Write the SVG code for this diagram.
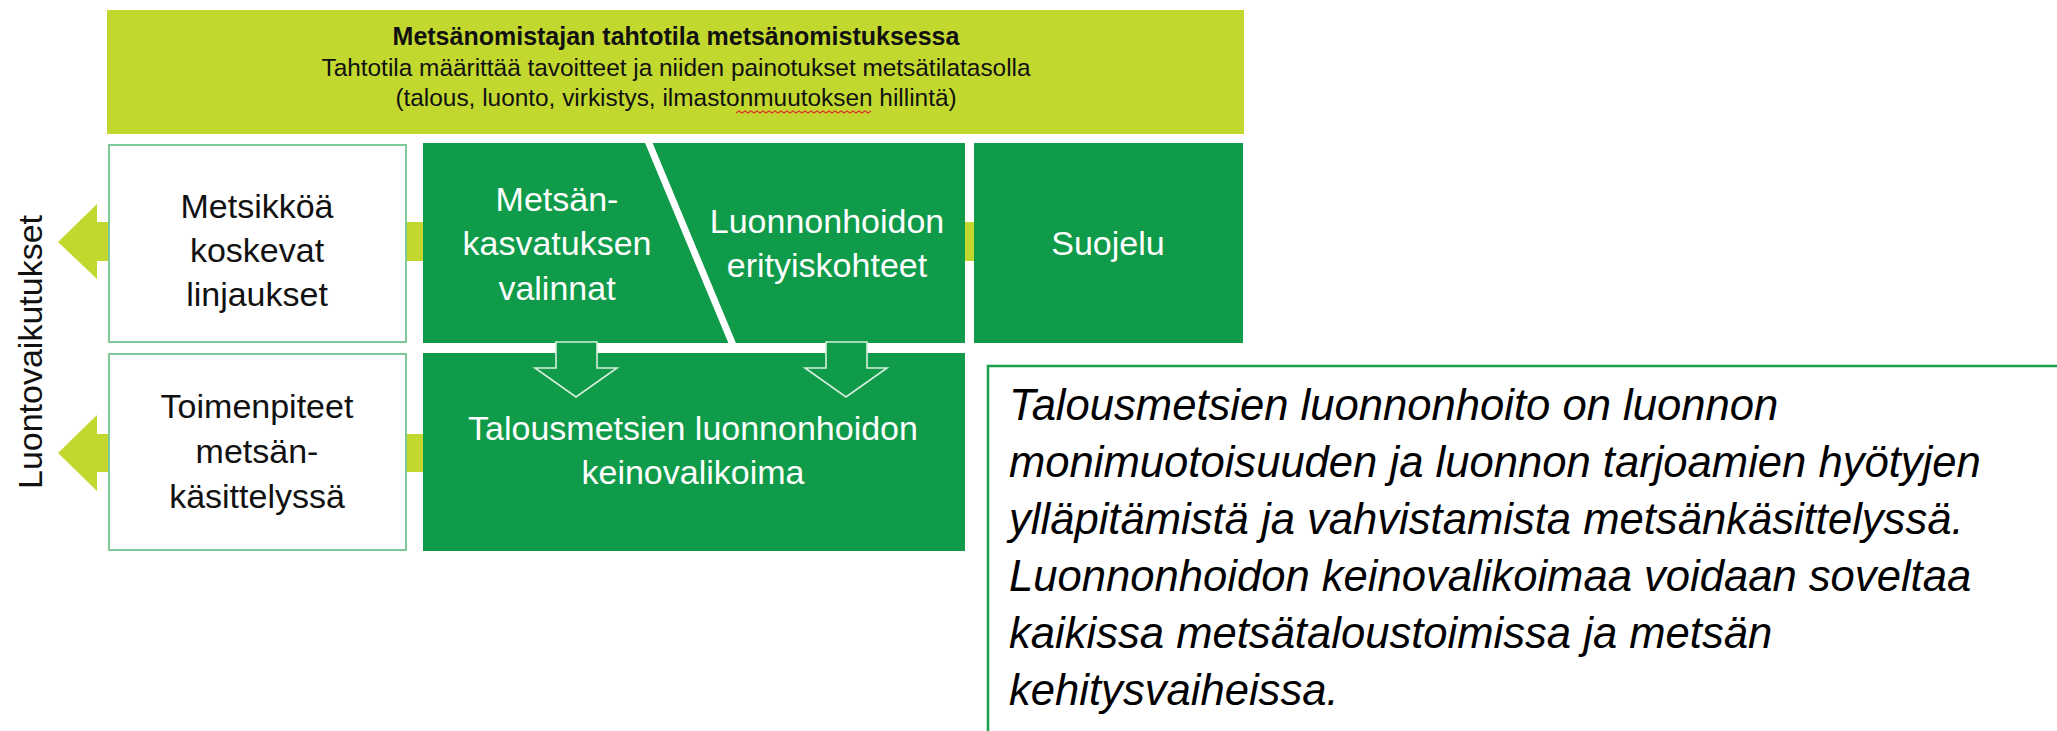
<svg xmlns="http://www.w3.org/2000/svg" width="2057" height="731" viewBox="0 0 2057 731">
<style>
.lime{fill:#c2d82f}
.dk{fill:#0f9b4a}
.wbox{fill:#ffffff;stroke:#7fca98;stroke-width:2}
.t{font-family:"Liberation Sans",Arial,sans-serif;text-anchor:middle}
.bk{fill:#111111;font-size:34px}
.wh{fill:#ffffff;font-size:34px}
.it{font-family:"Liberation Sans",Arial,sans-serif;font-style:italic;font-size:43.6px;fill:#000000}
.darr{fill:#0f9b4a;stroke:#d6efdc;stroke-width:1.6}
</style>
<rect width="2057" height="731" fill="#ffffff"/>

<g id="connectors">
  <polygon class="lime" points="58,242 97,204 97,222 424,222 424,261 97,261 97,279"/>
  <polygon class="lime" points="58,453 97,415 97,434 424,434 424,472 97,472 97,491"/>
  <rect class="lime" x="962" y="222" width="14" height="39"/>
</g>

<g id="banner">
  <rect class="lime" x="107" y="10" width="1137" height="124"/>
  <text class="t" x="676" y="45" font-size="25" font-weight="bold" fill="#111">Metsänomistajan tahtotila metsänomistuksessa</text>
  <text class="t" x="676" y="76" font-size="24.4" fill="#111">Tahtotila määrittää tavoitteet ja niiden painotukset metsätilatasolla</text>
  <text class="t" x="676" y="106" font-size="24.4" fill="#111">(talous, luonto, virkistys, ilmastonmuutoksen hillintä)</text>
  <path d="M736,113 l3,-2 l3,2 l3,-2 l3,2 l3,-2 l3,2 l3,-2 l3,2 l3,-2 l3,2 l3,-2 l3,2 l3,-2 l3,2 l3,-2 l3,2 l3,-2 l3,2 l3,-2 l3,2 l3,-2 l3,2 l3,-2 l3,2 l3,-2 l3,2 l3,-2 l3,2 l3,-2 l3,2 l3,-2 l3,2 l3,-2 l3,2 l3,-2 l3,2 l3,-2 l3,2 l3,-2 l3,2 l3,-2 l3,2 l3,-2 l3,2 l3,-2" fill="none" stroke="#e03030" stroke-width="1.2"/>
</g>

<g id="side-label">
  <text class="t" x="0" y="0" font-size="34" fill="#111" transform="translate(42,352) rotate(-90)">Luontovaikutukset</text>
</g>

<g id="metsikkoa">
  <rect class="wbox" x="109" y="145" width="297" height="197"/>
  <text class="t bk" x="257" y="218">Metsikköä</text>
  <text class="t bk" x="257" y="262">koskevat</text>
  <text class="t bk" x="257" y="306">linjaukset</text>
</g>

<g id="toimenpiteet">
  <rect class="wbox" x="109" y="354" width="297" height="196"/>
  <text class="t bk" x="257" y="418">Toimenpiteet</text>
  <text class="t bk" x="257" y="463">metsän-</text>
  <text class="t bk" x="257" y="508">käsittelyssä</text>
</g>

<g id="metsan-luonnonhoidon">
  <rect class="dk" x="423" y="143" width="542" height="200"/>
  <line x1="648" y1="141" x2="733" y2="345" stroke="#ffffff" stroke-width="7"/>
  <text class="t wh" x="557" y="211">Metsän-</text>
  <text class="t wh" x="557" y="255">kasvatuksen</text>
  <text class="t wh" x="557" y="300">valinnat</text>
  <text class="t wh" x="827" y="233">Luonnonhoidon</text>
  <text class="t wh" x="827" y="277">erityiskohteet</text>
</g>

<g id="suojelu">
  <rect class="dk" x="974" y="143" width="269" height="200"/>
  <text class="t wh" x="1108" y="255">Suojelu</text>
</g>

<g id="keinovalikoima">
  <rect class="dk" x="423" y="353" width="542" height="198"/>
  <text class="t wh" x="693" y="440">Talousmetsien luonnonhoidon</text>
  <text class="t wh" x="693" y="484">keinovalikoima</text>
</g>

<g id="down-arrows">
  <polygon class="darr" points="556,342 597,342 597,368 617,368 576,397 535,368 556,368"/>
  <polygon class="darr" points="826,342 867,342 867,368 887,368 846,397 805,368 826,368"/>
</g>

<g id="definition">
  <rect x="988" y="366" width="1090" height="400" fill="#ffffff" stroke="#18a04d" stroke-width="2.5"/>
  <text class="it" x="1009" y="420">Talousmetsien luonnonhoito on luonnon</text>
  <text class="it" x="1009" y="477">monimuotoisuuden ja luonnon tarjoamien hyötyjen</text>
  <text class="it" x="1009" y="534">ylläpitämistä ja vahvistamista metsänkäsittelyssä.</text>
  <text class="it" x="1009" y="591">Luonnonhoidon keinovalikoimaa voidaan soveltaa</text>
  <text class="it" x="1009" y="648">kaikissa metsätaloustoimissa ja metsän</text>
  <text class="it" x="1009" y="705">kehitysvaiheissa.</text>
</g>
</svg>
